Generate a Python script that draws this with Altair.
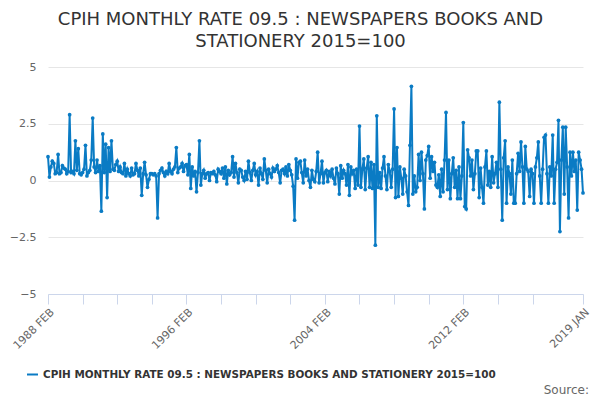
import altair as alt
import pandas as pd

# Monthly rate values, one row per 12 months starting 1988 FEB
y1988 = [1.05, 0.15, 0.6, 0.85, 0.75, 0.3, 0.35, 1.15, 0.3, 0.35, 0.65, 0.55]
y1989 = [0.5, 0.3, 0.4, 2.9, 0.35, 0.4, 0.3, 1.75, 0.45, 1.4, 0.3, 0.25]
y1990 = [0.35, 0.5, 1.55, 0.2, 0.35, 0.45, 0.9, 2.75, 0.6, 0.35, 0.9, 0.4]
y1991 = [0.65, -1.35, 2.05, 0.35, 1.6, -0.75, 1.45, 0.4, 1.75, 0.5, 0.45, 0.7]
y1992 = [0.85, 0.4, 0.6, 0.35, 0.3, 0.75, 0.2, 0.5, 0.3, 0.2, 0.55, 0.25]
y1993 = [0.3, 0.75, 0.45, 0.2, 0.55, -0.65, 0.3, 0.8, 0.25, -0.3, 0.05, 0.3]
y1994 = [0.3, 0.25, 0.3, 0.2, -1.65, 0.3, 0.45, 0.55, 0.35, 0.2, 0.4, 0.3]
y1995 = [0.75, 0.4, 0.3, 0.5, 0.6, 1.45, 0.35, 0.55, 0.6, 0.75, 0.4, 0.65]
y1996 = [0.7, 0.25, 1.15, -0.35, 0.6, 0.2, 0.4, -0.5, 0.35, 1.75, -0.2, 0.3]
y1997 = [0.45, 0.1, 0.3, 0.35, 0.0, 0.35, 0.3, 0.4, 0.25, -0.05, 0.5, 0.4]
y1998 = [0.3, 0.55, 0.1, 0.6, -0.15, 0.45, 0.25, 0.35, 1.05, 0.15, 0.75, 0.35]
y1999 = [-0.1, 0.5, 0.45, 0.15, 0.0, 0.4, 0.05, 0.85, 0.35, 0.0, 0.45, 0.75]
y2000 = [0.25, 0.4, -0.2, 0.55, 0.3, 0.05, 0.95, 0.45, -0.1, 0.5, 0.3, 0.15]
y2001 = [0.55, 0.4, 0.5, 0.65, 0.35, -0.1, 0.45, 0.5, 0.3, 0.6, 0.2, 0.7]
y2002 = [0.45, 0.25, -0.25, -1.75, 0.95, 0.1, 0.8, 0.85, 0.35, -0.1, 0.9, 0.2]
y2003 = [0.5, 0.0, -0.3, 0.45, 0.05, -0.05, 0.4, 1.25, -0.1, 0.3, 0.85, -0.1]
y2004 = [0.35, 0.45, -0.05, 0.4, 0.2, 0.5, 0.1, -0.15, 0.55, 0.3, -0.6, 0.65]
y2005 = [0.1, 0.45, 0.3, -0.2, 0.7, -0.65, 0.6, 0.3, 0.45, -0.35, 0.5, -0.2]
y2006 = [2.4, -0.3, 0.5, 0.95, -0.4, 0.55, 1.05, -0.3, 0.8, -0.35, 0.7, -2.85]
y2007 = [2.85, -0.3, 0.35, -0.35, 0.55, 1.05, 0.2, -0.4, 0.7, 0.4, -0.3, 0.5]
y2008 = [3.15, -0.75, 1.45, -0.7, 0.6, 0.1, -0.6, 0.5, 0.2, -0.5, -1.1, 1.55]
y2009 = [4.15, -0.6, 0.2, -0.5, -0.3, 1.15, 0.0, 1.25, 0.3, -1.25, 0.9, 1.1]
y2010 = [1.5, 0.1, 1.05, 0.4, 0.8, -0.2, -0.3, 0.25, -0.7, 0.5, -0.5, 0.9]
y2011 = [3.0, -0.4, 0.9, -0.8, 0.3, 1.0, -0.3, 0.45, -0.8, 0.6, -0.8, 0.2]
y2012 = [2.55, -1.15, -1.25, 1.35, 1.0, 0.2, 0.9, -0.4, 0.3, 1.3, 1.3, -0.75]
y2013 = [0.55, -0.3, -1.0, 0.6, 1.3, -0.2, 0.4, -0.3, 1.05, -0.1, 0.3, 0.8]
y2014 = [-0.3, 3.45, 0.5, -1.75, 1.0, 1.75, -1.0, 0.6, 0.3, -0.6, 0.9, -1.0]
y2015 = [-1.0, 0.3, 1.2, 0.4, 1.7, 0.6, -1.0, 1.5, 0.5, 0.4, -0.7, 0.5]
y2016 = [0.3, -1.0, 0.6, 1.0, 1.7, 0.2, -1.0, 0.5, 1.9, 2.0, 0.3, -1.0]
y2017 = [0.6, 0.2, 2.0, -1.0, 0.5, 0.8, 2.65, -2.25, 0.9, 2.35, -0.6, 2.35]
y2018 = [0.6, -1.65, 1.25, 0.2, 1.25, 0.4, 0.9, -1.3, 1.25, 0.9, 0.5, -0.55]

rows = [y1988, y1989, y1990, y1991, y1992, y1993, y1994, y1995, y1996, y1997,
        y1998, y1999, y2000, y2001, y2002, y2003, y2004, y2005, y2006, y2007,
        y2008, y2009, y2010, y2011, y2012, y2013, y2014, y2015, y2016, y2017, y2018]
values = [v for r in rows for v in r]

series_name = "CPIH MONTHLY RATE 09.5 : NEWSPAPERS BOOKS AND STATIONERY 2015=100"
tick_positions = [0, 24, 48, 72, 96, 120, 144, 168, 192, 216, 240, 264, 288, 312, 336, 371]
tick_labels = {0: "1988 FEB", 96: "1996 FEB", 192: "2004 FEB", 288: "2012 FEB", 371: "2019 JAN"}
y_ticks = [-5, -2.5, 0, 2.5, 5]

df = pd.DataFrame({"idx": list(range(len(values))), "value": values, "series": series_name})

label_expr = " : ".join([f"datum.value == {k} ? '{v}'" for k, v in tick_labels.items()]) + " : ''"

COLOR = "#0a7bc4"
FONT = "DejaVu Sans"

line = alt.Chart(df).mark_line(
    strokeWidth=2,
    point=alt.OverlayMarkDef(filled=True, size=14, color=COLOR),
).encode(
    x=alt.X("idx:Q",
            scale=alt.Scale(domain=[0, len(values) - 1], nice=False, zero=False),
            axis=alt.Axis(values=tick_positions, labelExpr=label_expr, labelAngle=-45,
                          title=None, grid=False, domainColor="#ccd6eb", tickColor="#ccd6eb",
                          tickSize=10, labelColor="#666666", labelFontSize=11, labelFont=FONT,
                          labelPadding=2, labelOverlap=False)),
    y=alt.Y("value:Q",
            scale=alt.Scale(domain=[-5, 5], nice=False),
            axis=alt.Axis(values=y_ticks, format=".2~g", title=None, domain=False, ticks=False,
                          gridColor="#e6e6e6", labelColor="#666666", labelFontSize=11,
                          labelFont=FONT, labelPadding=12)),
    color=alt.Color("series:N", scale=alt.Scale(range=[COLOR]),
                    legend=alt.Legend(title=None, orient="none", legendX=-22, legendY=301,
                                      symbolType="stroke", symbolStrokeWidth=2, symbolSize=120,
                                      labelFont=FONT, labelFontSize=10.4, labelFontWeight="bold",
                                      labelColor="#333333", labelLimit=0)),
)

source = alt.Chart(pd.DataFrame({"t": ["Source:"]})).mark_text(
    align="right", baseline="middle", font=FONT, fontSize=12, color="#666666"
).encode(x=alt.value(541), y=alt.value(323), text="t:N")

chart = alt.layer(line, source).properties(
    width=535, height=227,
    padding={"left": 40, "top": 59, "right": 9, "bottom": 110},
    autosize=alt.AutoSizeParams(type="none"),
    title=alt.Title(["CPIH MONTHLY RATE 09.5 : NEWSPAPERS BOOKS AND", "STATIONERY 2015=100"],
                    font=FONT, fontSize=18, fontWeight="normal", color="#333333",
                    anchor="middle", dx=-15, offset=10, lineHeight=22),
).configure_view(stroke=None)

chart.save("out.html", embed_options={"renderer": "svg", "actions": False})
